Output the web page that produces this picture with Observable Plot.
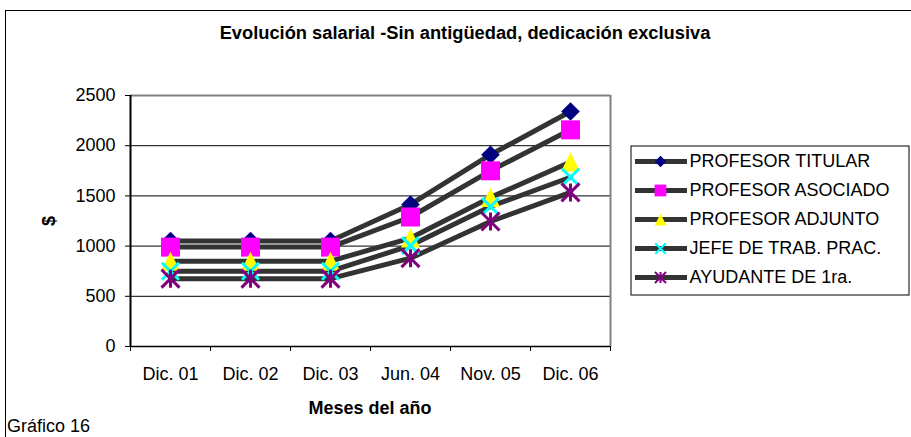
<!DOCTYPE html>
<html>
<head>
<meta charset="utf-8">
<script src="https://cdn.jsdelivr.net/npm/d3@7"></script>
<script src="https://cdn.jsdelivr.net/npm/@observablehq/plot@0.6"></script>
<style>
  html, body { margin: 0; padding: 0; overflow: hidden; background: #fff; }
  #wrap { position: relative; width: 911px; height: 437px; font-family: "Liberation Sans", Arial, sans-serif; color: #000; overflow: hidden; }
  .abs { position: absolute; white-space: nowrap; }
  #frame { position: absolute; left: 5px; top: 10px; width: 905px; height: 440px; border-left: 1px solid #000; border-top: 1px solid #000; border-right: 1px solid #000; }
</style>
</head>
<body>
<div id="wrap">
  <div id="frame"></div>
  <div class="abs" id="title" style="left:20px;width:890px;top:22px;text-align:center;font-weight:bold;font-size:18.3px;line-height:22px;"></div>
  <div class="abs" id="ylab" style="left:39px;top:210px;width:20px;height:22px;text-align:center;font-weight:bold;font-size:18px;line-height:22px;transform:rotate(-90deg);"></div>
  <div class="abs" id="xlab" style="left:270px;width:200px;top:398px;text-align:center;font-weight:bold;font-size:18px;line-height:20px;"></div>
  <div class="abs" id="caption" style="left:7px;top:416px;font-size:18px;line-height:20px;"></div>
  <div id="chart" class="abs" style="left:0;top:0;"></div>
  <div id="legend" class="abs" style="left:630px;top:145px;"></div>
</div>
<script>
const titleText = "Evolución salarial -Sin antigüedad, dedicación exclusiva";
const yLabel = "$";
const xLabel = "Meses del año";
const captionText = "Gráfico 16";

const categories = ["Dic. 01", "Dic. 02", "Dic. 03", "Jun. 04", "Nov. 05", "Dic. 06"];
const seriesNames = ["PROFESOR TITULAR", "PROFESOR ASOCIADO", "PROFESOR ADJUNTO", "JEFE DE TRAB. PRAC.", "AYUDANTE DE 1ra."];
const titular  = [1050, 1050, 1050, 1415, 1910, 2340];
const asociado = [990, 990, 990, 1290, 1750, 2158];
const adjunto  = [850, 850, 850, 1080, 1485, 1838];
const jtp      = [750, 750, 750, 1005, 1395, 1686];
const ayudante = [676, 676, 676, 880, 1245, 1535];
const yTicks = [0, 500, 1000, 1500, 2000, 2500];

document.getElementById("title").textContent = titleText;
document.getElementById("ylab").textContent = yLabel;
document.getElementById("xlab").textContent = xLabel;
document.getElementById("caption").textContent = captionText;

const seriesValues = [titular, asociado, adjunto, jtp, ayudante];
const data = seriesNames.flatMap((name, s) => seriesValues[s].map((v, i) => ({series: name, idx: i, value: v})));

function rad(size) { return Math.sqrt(size / Math.PI); }
const symbols = {
  diamond: {draw(c, size) { const r = rad(size); c.moveTo(0, -r); c.lineTo(r, 0); c.lineTo(0, r); c.lineTo(-r, 0); c.closePath(); }},
  square: {draw(c, size) { const r = rad(size); c.rect(-r, -r, 2 * r, 2 * r); }},
  triangle: {draw(c, size) { const r = rad(size); c.moveTo(0, -r); c.lineTo(r, r); c.lineTo(-r, r); c.closePath(); }},
  x: {draw(c, size) { const r = rad(size); c.moveTo(-r, -r); c.lineTo(r, r); c.moveTo(-r, r); c.lineTo(r, -r); }},
  asterisk: {draw(c, size) { const r = rad(size); c.moveTo(-r, -r); c.lineTo(r, r); c.moveTo(-r, r); c.lineTo(r, -r); c.moveTo(0, -r); c.lineTo(0, r); }}
};
const markerStyles = [
  {symbol: symbols.diamond, fill: "#000080", stroke: "none", r: 9.3, sw: 0},
  {symbol: symbols.square, fill: "#FF00FF", stroke: "none", r: 9.5, sw: 0},
  {symbol: symbols.triangle, fill: "#FFFF00", stroke: "none", r: 9.5, sw: 0},
  {symbol: symbols.x, fill: "none", stroke: "#00FFFF", r: 8.5, sw: 3},
  {symbol: symbols.asterisk, fill: "none", stroke: "#800080", r: 9, sw: 3}
];

const font = "'Liberation Sans', Arial, sans-serif";

const markerMarks = seriesNames.map((name, s) => {
  const m = markerStyles[s];
  return Plot.dot(data.filter(d => d.series === name), {
    x: "idx", y: "value", symbol: m.symbol, r: m.r, fill: m.fill, stroke: m.stroke, strokeWidth: m.sw
  });
});

const chart = Plot.plot({
  width: 911, height: 437,
  marginLeft: 130, marginRight: 301, marginTop: 95, marginBottom: 91,
  style: {fontFamily: font, fontSize: "18px", color: "#000", background: "transparent", overflow: "visible"},
  x: {type: "linear", domain: [-0.5, categories.length - 0.5]},
  y: {domain: [0, 2500]},
  marks: [
    Plot.gridY(yTicks.filter(t => t > 0 && t < 2500), {stroke: "#000", strokeOpacity: 1}),
    Plot.ruleY([2500], {stroke: "#808080", strokeWidth: 2}),
    Plot.ruleX([categories.length - 0.5], {stroke: "#808080", strokeWidth: 2}),
    Plot.axisY(yTicks, {tickSize: 5, tickPadding: 10, tickFormat: d3.format("d"), label: null, fontSize: 18}),
    Plot.axisX(d3.range(categories.length + 1).map(i => i - 0.5), {tickSize: 5, tickFormat: () => "", label: null}),
    Plot.axisX(d3.range(categories.length), {tickSize: 0, tickPadding: 21, tickFormat: i => categories[i], label: null, fontSize: 18}),
    Plot.ruleX([-0.5], {stroke: "#000", strokeWidth: 2}),
    Plot.ruleY([0], {stroke: "#000", strokeWidth: 1.5}),
    Plot.line(data, {x: "idx", y: "value", z: "series", stroke: "#333", strokeWidth: 5}),
    ...markerMarks
  ]
});
document.getElementById("chart").appendChild(chart);

const legendMarkers = seriesNames.map((name, s) => {
  const m = markerStyles[s];
  return Plot.dot([name], {
    x: 30, y: d => d, symbol: m.symbol, r: m.r * 0.62, fill: m.fill, stroke: m.stroke, strokeWidth: m.sw ? 2 : 0
  });
});

const legend = Plot.plot({
  width: 279, height: 150, margin: 0,
  style: {fontFamily: font, fontSize: "18px", color: "#000", background: "#fff", overflow: "visible"},
  x: {domain: [0, 279], range: [0, 279], axis: null},
  y: {type: "point", domain: seriesNames, range: [15, 132], padding: 0, axis: null},
  marks: [
    Plot.frame({stroke: "#000", inset: 0.5}),
    Plot.ruleY(seriesNames, {y: d => d, x1: 5, x2: 57, stroke: "#333", strokeWidth: 5}),
    ...legendMarkers,
    Plot.text(seriesNames, {x: 59, y: d => d, text: d => d, textAnchor: "start", fontSize: 18, fill: "#000"})
  ]
});
document.getElementById("legend").appendChild(legend);
</script>
</body>
</html>
